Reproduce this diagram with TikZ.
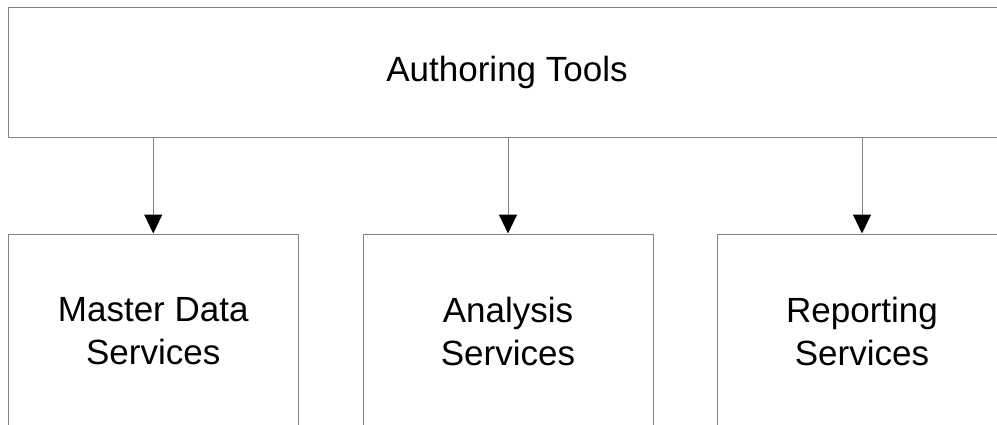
\documentclass[tikz,border=0pt]{standalone}
\usepackage{fontspec}
\setmainfont{Liberation Sans}
\usetikzlibrary{arrows.meta}
\tikzset{
  box/.style={draw=black!50, line width=1pt, minimum width=290pt, minimum height=194pt, align=center, inner sep=0pt, font=\fontsize{35}{43}\selectfont},
  link/.style={draw=black!50, line width=1pt, -{Triangle[width=18pt,length=19pt,color=black]}}
}
\begin{document}
\begin{tikzpicture}[x=1pt,y=-1pt, line join=round] %layers
  \useasboundingbox (0,0) rectangle (997,424);
  \clip (0,0) rectangle (997,424);
  \node[box, minimum width=997pt, minimum height=129.5pt] (tools) at (507,72.25) {Authoring Tools};
  \node[box] (mds) at (153.25,331) {Master Data\\Services};
  \node[box] (ssas) at (508,331) {Analysis\\Services};
  \node[box] (ssrs) at (862,331) {Reporting\\Services};
  \draw[link] (tools.south -| mds.north) -- (mds.north);
  \draw[link] (tools.south -| ssas.north) -- (ssas.north);
  \draw[link] (tools.south -| ssrs.north) -- (ssrs.north);
\end{tikzpicture}
\end{document}
